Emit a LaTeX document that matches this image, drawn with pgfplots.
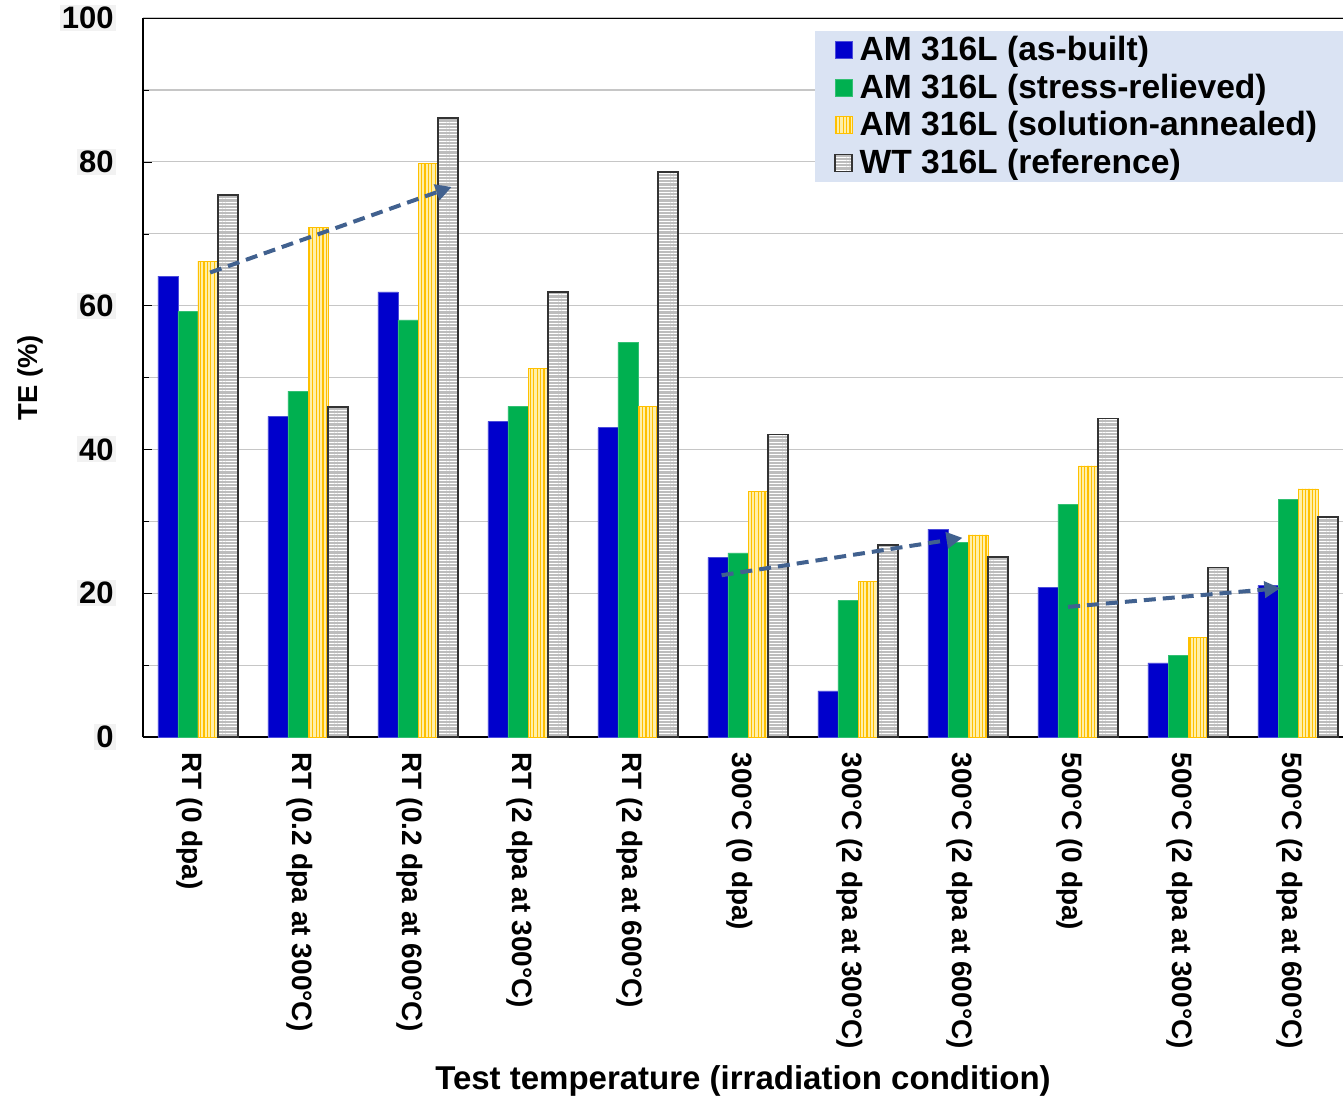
\documentclass[border=0pt]{standalone}
\usepackage{pgfplots}
\pgfplotsset{compat=1.18}
\usepackage{pgfplotstable}
\usetikzlibrary{patterns.meta,arrows.meta}
\usepackage{fontspec}
\setmainfont{Liberation Sans}
\definecolor{cBlue}{HTML}{0000CC}
\definecolor{cGreen}{HTML}{00B050}
\definecolor{cGold}{HTML}{FFC000}
\definecolor{cLightGold}{HTML}{FFEFA8}
\definecolor{cGray}{HTML}{BDBDBD}
\definecolor{cLeg}{HTML}{DAE3F3}
\definecolor{cArrow}{HTML}{41618F}
\pgfplotstableread{
x A B C D
0 64.1 59.2 66.2 75.4
1 44.6 48.1 70.9 45.9
2 61.9 58.0 79.8 86.1
3 43.9 46.0 51.3 61.9
4 43.0 54.9 46.0 78.6
5 25.0 25.6 34.1 42.1
6 6.4 19.0 21.6 26.7
7 28.9 27.1 28.1 25.0
8 20.8 32.4 37.7 44.3
9 10.3 11.3 13.8 23.6
10 21.1 33.1 34.5 30.6
}\datatable
\begin{document}
\begin{tikzpicture}
\begin{axis}[
  name=ax,
  scale only axis,
  width=600pt, height=359.5pt,
  xmin=-0.5, xmax=10.409,
  ymin=0, ymax=100,
  axis x line*=bottom, axis y line*=left,
  ybar=0pt, bar width=0.182,
  xtick={0,...,10},
  xticklabels={RT (0 dpa),RT (0.2 dpa at 300°C),RT (0.2 dpa at 600°C),RT (2 dpa at 300°C),RT (2 dpa at 600°C),300°C (0 dpa),300°C (2 dpa at 300°C),300°C (2 dpa at 600°C),500°C (0 dpa),500°C (2 dpa at 300°C),500°C (2 dpa at 600°C)},
  xticklabel style={rotate=-90, anchor=west, font=\bfseries\fontsize{14}{15}\selectfont, yshift=-4pt},
  major x tick style={draw=none},
  ytick={0,20,...,100},
  minor ytick={10,30,...,90},
  ymajorgrids, yminorgrids,
  major grid style={gray!45, line width=0.6pt},
  minor grid style={gray!45, line width=0.6pt},
  tick style={black},
  y tick label style={font=\bfseries\fontsize{15.5}{16}\selectfont, fill=black!5, inner sep=1pt, xshift=-13.5pt},
  /pgf/number format/assume math mode=true,
  ylabel={TE (\%)},
  ylabel style={font=\bfseries\fontsize{13.7}{15}\selectfont, at={(axis description cs:-0.0942,0.5)}, anchor=center},
  xlabel={Test temperature (irradiation condition)},
  xlabel style={font=\bfseries\fontsize{16.5}{18}\selectfont, at={(axis description cs:0.5,0)}, anchor=center, yshift=-172pt},
  legend style={at={(axis description cs:1.0,0.983)}, anchor=north east, fill=cLeg, draw=none,
    font=\bfseries\fontsize{16.8}{18.75}\selectfont, row sep=1.2pt, inner xsep=9.5pt, inner ysep=0.75pt,
    legend cell align=left, nodes={inner xsep=3.3pt}},
  legend image code/.code={\draw[#1] (0pt,-4.25pt) rectangle (8.5pt,4.25pt);},
  axis line style={black, line width=0.8pt},
]
\addplot[fill=cBlue, draw=cBlue!70!white] table[x=x,y=A]{\datatable};
\addplot[fill=cGreen, draw=cGreen!80!white] table[x=x,y=B]{\datatable};
\addplot[fill=cLightGold, draw=cGold, postaction={pattern={Lines[angle=90,distance=1.7pt,line width=0.6pt]}, pattern color=cGold}] table[x=x,y=C]{\datatable};
\addplot[fill=cGray, draw=black!80, line width=0.8pt, postaction={pattern={Lines[angle=0,distance=1.6pt,line width=0.35pt]}, pattern color=white}] table[x=x,y=D]{\datatable};
\legend{AM 316L (as-built),AM 316L (stress-relieved),AM 316L (solution-annealed),WT 316L (reference)}
\draw[black, line width=0.8pt] (rel axis cs:0,1) -- (rel axis cs:1,1);
\draw[cArrow, line width=2pt, dash pattern=on 6pt off 3.5pt, -{Triangle[length=8pt,width=8pt]}] (axis cs:0.11,64.6) -- (axis cs:2.306,76.5);
\draw[cArrow, line width=2pt, dash pattern=on 6pt off 3.5pt, -{Triangle[length=8pt,width=8pt]}] (axis cs:4.76,22.5) -- (axis cs:6.95,27.7);
\draw[cArrow, line width=2pt, dash pattern=on 6pt off 3.5pt, -{Triangle[length=8pt,width=8pt]}] (axis cs:7.91,18.1) -- (axis cs:9.84,20.7);
\coordinate (ll) at (rel axis cs:0,0);
\coordinate (ur) at (rel axis cs:1,1);
\end{axis}
\pgfresetboundingbox
\path ([xshift=-71.5pt,yshift=-180.5pt]ll) rectangle ([yshift=9pt]ur);
\end{tikzpicture}
\end{document}
